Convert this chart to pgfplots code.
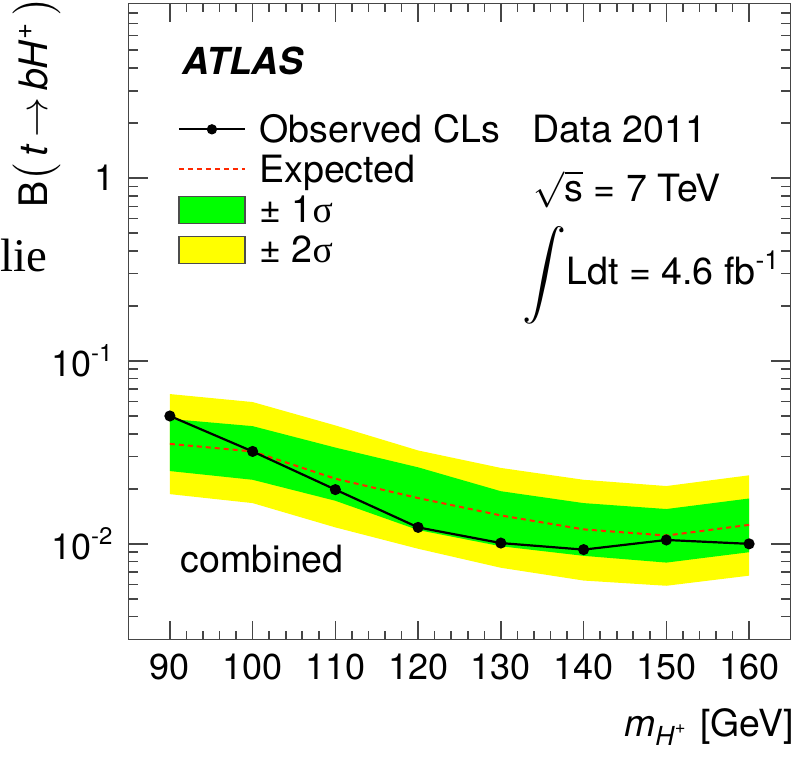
\documentclass[border=0pt]{standalone}
\usepackage{fontspec}
\setmainfont{TeX Gyre Heros}
\newfontfamily\timesfont{Liberation Serif}
\usepackage{pgfplots}
\usepackage{pgfplotstable}
\pgfplotsset{compat=1.18}
\usepgfplotslibrary{fillbetween}
\definecolor{bandgreen}{RGB}{0,255,0}
\definecolor{bandyellow}{RGB}{255,255,0}
\definecolor{expred}{RGB}{255,40,0}
\definecolor{framegray}{RGB}{70,70,70}
\newcommand\lbl{\fontsize{9}{10.8}\selectfont}
\newcommand\txt{\fontsize{9.4}{11}\selectfont}
\newcommand\ttl{\fontsize{9.8}{11.5}\selectfont}

\pgfplotstableread{
m   obs    exp    gup    gdn    yup    ydn
90  0.0500 0.0352 0.0482 0.0250 0.0659 0.0187
100 0.0320 0.0320 0.0440 0.0224 0.0596 0.0167
110 0.0198 0.0227 0.0336 0.0172 0.0444 0.0123
120 0.0123 0.0178 0.0262 0.0119 0.0324 0.0094
130 0.0101 0.0143 0.0194 0.0097 0.0260 0.0074
140 0.0093 0.0120 0.0167 0.0086 0.0224 0.0063
150 0.0105 0.0111 0.0155 0.0079 0.0207 0.0059
160 0.0100 0.0127 0.0177 0.0090 0.0237 0.0067
}\limitdata

\begin{document}
\begin{tikzpicture}
\node[anchor=base west, font=\timesfont\fontsize{11.7}{14}\selectfont, inner sep=0pt] at (0pt,121.75pt) {lie};
\begin{axis}[
  at={(32.125pt,29.875pt)}, anchor=south west,
  scale only axis, width=165.5pt, height=159pt,
  xmin=85, xmax=165,
  xtick={90,100,...,160}, minor x tick num=4,
  ymode=log, ymin=0.003, ymax=9,
  ytick={0.01,0.1,1},
  yticklabels={10\textsuperscript{-2},10\textsuperscript{-1},1},
  minor ytick={0.003,0.004,0.005,0.006,0.007,0.008,0.009,0.02,0.03,0.04,0.05,0.06,0.07,0.08,0.09,0.2,0.3,0.4,0.5,0.6,0.7,0.8,0.9,2,3,4,5,6,7,8,9},
  /pgf/number format/assume math mode=true,
  tick label style={font=\lbl},
  axis line style={framegray, line width=0.4pt},
  tick style={framegray, line width=0.4pt},
  major tick length=4.75pt, minor tick length=2.25pt,
  xlabel={\textit{m}\textsubscript{\textit{H}\textsuperscript{+}} [GeV]},
  xlabel style={at={(axis description cs:1,-0.153)}, anchor=base east, inner sep=0pt, xshift=1pt, font=\fontsize{9.35}{11}\selectfont},
  ylabel={B$\bigl($\,\textit{t}\,$\rightarrow$\,\textit{bH}\textsuperscript{+}\,$\bigr)$},
  ylabel style={at={(axis description cs:-0.138,0.845)}, anchor=center, inner sep=0pt, font=\ttl},
  legend style={at={(axis description cs:0.0733,0.826)}, anchor=north west, draw=none, fill=none,
    inner sep=0pt, row sep=0pt, column sep=3.3pt, font=\txt,
    nodes={inner sep=0pt, text height=7pt, text depth=3pt}},
  legend cell align=left,
]
\addlegendimage{legend image code/.code={\draw[black, line width=0.55pt, mark=*, mark size=1pt, mark repeat=2, mark phase=2] plot coordinates {(0pt,1.4pt)(8.25pt,1.4pt)(16.5pt,1.4pt)};}}
\addlegendentry{Observed CLs}
\addlegendimage{legend image code/.code={\draw[expred, line width=0.5pt, dash pattern=on 1.25pt off 1pt] (0pt,1.6pt) -- (16.5pt,1.6pt);}}
\addlegendentry{Expected}
\addlegendimage{legend image code/.code={\draw[fill=bandgreen, draw=black!70, line width=0.35pt] (0pt,-2.175pt) rectangle (16.5pt,4.575pt);}}
\addlegendentry{± 1{\timesfont σ}}
\addlegendimage{legend image code/.code={\draw[fill=bandyellow, draw=black!70, line width=0.35pt] (0pt,-2.175pt) rectangle (16.5pt,4.575pt);}}
\addlegendentry{± 2{\timesfont σ}}

\addplot[name path=yup, draw=none, forget plot] table[x=m,y=yup]{\limitdata};
\addplot[name path=ydn, draw=none, forget plot] table[x=m,y=ydn]{\limitdata};
\addplot[bandyellow, forget plot] fill between[of=yup and ydn];
\addplot[name path=gup, draw=none, forget plot] table[x=m,y=gup]{\limitdata};
\addplot[name path=gdn, draw=none, forget plot] table[x=m,y=gdn]{\limitdata};
\addplot[bandgreen, forget plot] fill between[of=gup and gdn];
\addplot[expred, line width=0.5pt, dash pattern=on 1.25pt off 1pt, forget plot] table[x=m,y=exp]{\limitdata};
\addplot[black, line width=0.55pt, mark=*, mark size=1.1pt, forget plot] table[x=m,y=obs]{\limitdata};

\node[anchor=base west, font=\bfseries\itshape\fontsize{9.3}{11}\selectfont, inner sep=0pt] at (axis description cs:0.0808,0.8877) {ATLAS};
\node[anchor=base west, font=\txt, inner sep=0pt] at (axis description cs:0.6095,0.7807) {Data 2011};
\node[anchor=base west, font=\txt, inner sep=0pt] at (axis description cs:0.611,0.6879) {$\sqrt{\mbox{s}}$ = 7 TeV};
\node[anchor=base west, font=\txt, inner sep=0pt] at (axis description cs:0.594,0.5574) {\scalebox{1.1}{$\displaystyle\int$}Ldt = 4.6 fb\textsuperscript{-1}};
\node[anchor=base west, font=\txt, inner sep=0pt] at (axis description cs:0.0778,0.1061) {combined};
\end{axis}
\pgfresetboundingbox
\useasboundingbox (0pt,0pt) rectangle (200.75pt,189.75pt);
\end{tikzpicture}
\end{document}
